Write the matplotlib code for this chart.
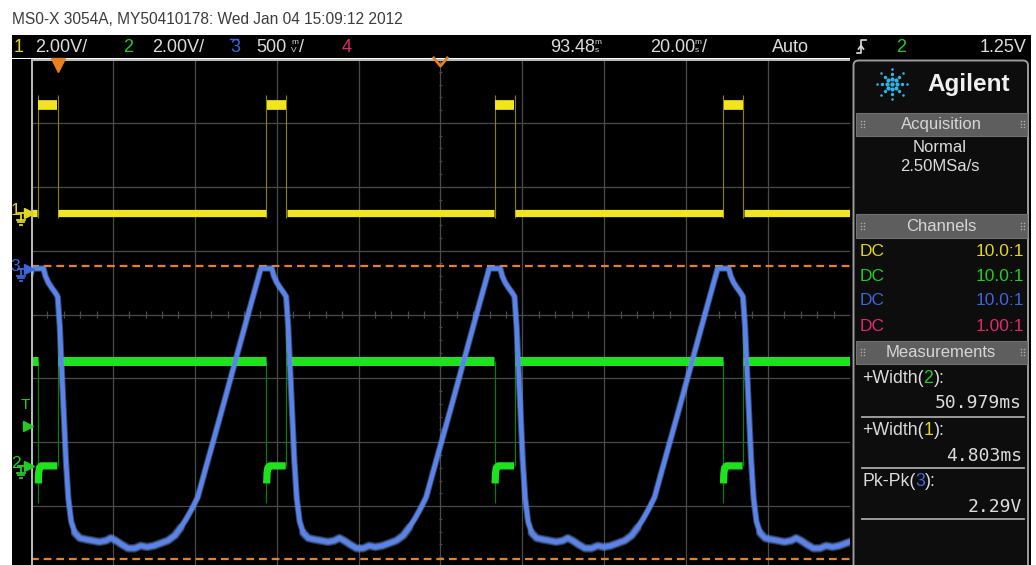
import numpy as np
import matplotlib
matplotlib.use("Agg")
import matplotlib.pyplot as plt
from matplotlib.patches import Rectangle, FancyBboxPatch
from matplotlib.path import Path

W, H, DPI = 1036, 565, 100

# ---------------- values ----------------
header_text = "MS0-X 3054A, MY50410178: Wed Jan 04 15:09:12 2012"
ch_scale_v = [2.0, 2.0, 0.5]          # V/div, channels 1..3
ch_ground_div = [5.59, 1.63, 4.72]    # ground marker height (div above bottom)
timebase_ms = 20.0
delay_ms = 93.48
trigger_level_v = 1.25

ch2_rise_ms = [-55.78, 0.0, 55.78, 111.56, 167.34]
ch2_width_ms = 50.979
ch1_width_ms = 4.803
ch1_high_v = 3.38
ch2_high_v = 3.28
ch2_undershoot_v = -1.16
ch2_overshoot_v = 4.26

ch3_cycle_dt_ms = [0.0, 0.5, 1.0, 1.5, 2.0, 2.6, 3.3, 4.2, 5.4, 6.8, 8.5, 10.2, 11.8,
                   13.0, 14.2, 15.6, 17.2, 18.8, 20.3, 21.8, 23.5, 25.2, 26.9, 28.6,
                   30.0, 31.4, 32.8, 34.2, 36.0, 40.0, 44.0, 47.0, 49.0, 49.6, 52.3,
                   52.8, 53.5, 54.3, 55.2]
ch3_cycle_v = [-0.22, -0.45, -0.80, -1.15, -1.50, -1.80, -1.98, -2.07, -2.11, -2.12,
               -2.13, -2.14, -2.13, -2.11, -2.13, -2.16, -2.19, -2.19, -2.17, -2.18,
               -2.17, -2.15, -2.13, -2.09, -2.03, -1.96, -1.88, -1.79, -1.58, -1.12,
               -0.65, -0.30, -0.07, 0.0, 0.0, -0.06, -0.11, -0.15, -0.19]
pkpk_top_v = 0.02
pkpk_bot_v = -2.27

acq_mode = "Normal"
acq_rate = "2.50MSa/s"
coupling = ["DC", "DC", "DC", "DC"]
probe_ratio = ["10.0:1", "10.0:1", "10.0:1", "1.00:1"]
meas_names = ["+Width", "+Width", "Pk-Pk"]
meas_src = ["2", "1", "3"]
meas_values = ["50.979ms", "4.803ms", "2.29V"]

# ---------------- styling ----------------
YEL, GRN, BLU, ORG = "#f2e41e", "#1ee21e", "#5a84ea", "#e8801e"
YEL_T, GRN_T, BLU_T, MAG_T = "#e2d61c", "#22cc22", "#3d66dc", "#e0286c"
TXT = "#dcdcdc"
SANS = ["Liberation Sans", "DejaVu Sans"]
MONO = ["DejaVu Sans Mono"]
CH_T = [YEL_T, GRN_T, BLU_T, MAG_T]

fig = plt.figure(figsize=(W / DPI, H / DPI), dpi=DPI, facecolor="white")


def fax(x0, y0, x1, y1):
    return fig.add_axes([x0 / W, 1 - y1 / H, (x1 - x0) / W, (y1 - y0) / H])


def bare(ax, fc="black"):
    ax.set_facecolor(fc)
    for s in ax.spines.values():
        s.set_visible(False)
    ax.set_xticks([])
    ax.set_yticks([])


def vdiv(ch, v):
    return ch_ground_div[ch - 1] + np.asarray(v, dtype=float) / ch_scale_v[ch - 1]


# ---------------- header ----------------
fig.text(12 / W, 1 - 19 / H, header_text, fontsize=11.2, color="#3c3c3c",
         va="center", ha="left", family=SANS)

# ---------------- status bar ----------------
axs = fax(12, 35, 1031, 58)
bare(axs)
axs.set_xlim(12, 1031)
axs.set_ylim(58, 35)
yc = 47
fs = 13


def st(x, s, c=TXT, ha="left", size=fs, y=yc):
    axs.text(x, y, s, color=c, fontsize=size, ha=ha, va="center", family=SANS)


st(14, "1", YEL_T)
st(35, "2.00V/")
st(123, "2", GRN_T)
st(152, "2.00V/")
st(230, "3", BLU_T)
axs.plot([230.5, 238], [38.8, 38.8], color=BLU_T, lw=1.0)
st(256, "500")
st(291, "m", size=6, y=42.5)
st(291, "V", size=6, y=51)
st(299, "/")
st(342, "4", MAG_T)
st(550, "93.48")
st(594, "m", size=6, y=42.5)
st(595, "s", size=6, y=51)
st(650, "20.00")
st(694, "m", size=6, y=42.5)
st(695, "s", size=6, y=51)
st(702, "/")
st(772, "Auto")
axs.plot([857, 861, 861, 866], [53, 53, 40, 40], color=TXT, lw=1.2)
axs.plot([858.5, 861, 863.5], [49, 45.5, 49], color=TXT, lw=1.2)
st(896, "2", GRN_T)
st(1027, "1.25V", ha="right")

# ---------------- main graticule ----------------
ax = fax(31, 59, 850, 570)
bare(ax)
x0, x1 = delay_ms - 5 * timebase_ms, delay_ms + 5 * timebase_ms
ax.set_xlim(x0, x1)
ax.set_ylim(0, 8)
for i in range(1, 10):
    ax.axvline(x0 + i * timebase_ms, color="#4a4a4a", lw=0.9, zorder=1)
for j in range(1, 8):
    ax.axhline(j, color="#4a4a4a", lw=0.9, zorder=1)
ax.axvline(x0, color="#b8b8b8", lw=2.2, zorder=6)
ax.axhline(8, color="#b8b8b8", lw=2.2, zorder=6)
# centre-line ticks
tx = np.arange(x0, x1, timebase_ms / 5)
ax.vlines(tx, 4 - 0.05, 4 + 0.05, color="#4a4a4a", lw=0.9, zorder=1)
ty = np.arange(0, 8, 0.2)
ax.hlines(ty, delay_ms - 0.45, delay_ms + 0.45, color="#4a4a4a", lw=0.9, zorder=1)

# pk-pk cursor lines
ax.axhline(vdiv(3, pkpk_top_v), color=ORG, lw=1.6, ls=(0, (3.5, 2.2)), zorder=2)
ax.axhline(vdiv(3, pkpk_bot_v), color=ORG, lw=1.6, ls=(0, (3.5, 2.2)), zorder=2)

# channel 1 (yellow)
for r in ch2_rise_ms:
    rs, fl = r - ch1_width_ms, r
    ax.vlines([rs, fl], vdiv(1, -0.15), vdiv(1, ch1_high_v + 0.3),
              color="#8a8200", lw=0.8, zorder=3)
    ax.plot([rs + 0.1, fl - 0.1], vdiv(1, [ch1_high_v, ch1_high_v]),
            color=YEL, lw=7, solid_capstyle="butt", zorder=4)
    ax.plot([fl + 0.15, fl + ch2_width_ms - 0.15], vdiv(1, [0, 0]),
            color=YEL, lw=5.2, solid_capstyle="butt", zorder=4)

# channel 2 (green)
for r in ch2_rise_ms:
    f = r + ch2_width_ms
    ax.vlines(r, vdiv(2, 0), vdiv(2, ch2_overshoot_v), color="#0f7a0f", lw=0.9, zorder=3)
    ax.vlines(f, vdiv(2, ch2_undershoot_v), vdiv(2, ch2_high_v), color="#0f7a0f",
              lw=0.9, zorder=3)
    ax.plot([r + 0.1, f - 0.1], vdiv(2, [ch2_high_v, ch2_high_v]),
            color=GRN, lw=6.5, solid_capstyle="butt", zorder=4)
    ax.plot([f + 0.05, f + 0.15, f + 0.35, f + 0.8, f + ch1_width_ms - 0.1],
            vdiv(2, [-0.55, -0.22, -0.06, 0.0, 0.0]),
            color=GRN, lw=5.2, solid_capstyle="butt", zorder=4)

# channel 3 (blue)
t3 = np.concatenate([np.asarray(ch3_cycle_dt_ms) + r for r in ch2_rise_ms])
v3 = np.concatenate([np.asarray(ch3_cycle_v) for _ in ch2_rise_ms])
y3 = vdiv(3, v3)
ax.plot(t3, y3, color="#7a9ff2", lw=4.6, alpha=0.45, zorder=5, solid_joinstyle="round")
# noisier (fuzzier) bottom portion
y3_bottom = np.where(v3 < -2.0, y3, np.nan)
ax.plot(t3, y3_bottom, color="#7a9ff2", lw=6.2, alpha=0.35, zorder=5,
        solid_joinstyle="round", solid_capstyle="round")
ax.plot(t3, y3, color=BLU, lw=3.2, zorder=5, solid_joinstyle="round")

# trigger position markers
ax.plot([0], [8 - 6 / 63.9], marker="v", ms=10, color=ORG, clip_on=False, zorder=7)
vmark = Path([(-1, 1), (0, -0.2), (1, 1)], [Path.MOVETO, Path.LINETO, Path.LINETO])
ax.plot([delay_ms], [8 - 5 / 63.9], marker=vmark, ms=11, mfc="none", mec=ORG, mew=2,
        clip_on=False, zorder=7)

# ---------------- left margin markers ----------------
axl = fax(12, 59, 31, 570)
bare(axl)
axl.set_xlim(12, 31)
axl.set_ylim(0, 8)
px = 1 / 63.9


def gnd_marker(label, y, c):
    axl.text(15.5, y + 2 * px, label, color=c, fontsize=12.5, ha="center", va="center",
             family=SANS)
    axl.plot([18, 26], [y, y], color=c, lw=1.3)
    axl.plot([21, 21], [y, y - 7 * px], color=c, lw=1.3)
    for k, hw in enumerate([4, 2.7, 1.4]):
        axl.plot([21 - hw, 21 + hw], [y - (7 + 2.5 * k) * px] * 2, color=c, lw=1.3)
    axl.plot([28.5], [y], marker=">", ms=7, color=c, clip_on=False)


gnd_marker("1", vdiv(1, 0), YEL_T)
gnd_marker("3", vdiv(3, 0), BLU_T)
gnd_marker("2", vdiv(2, 0), GRN_T)
tl = vdiv(2, trigger_level_v)
axl.text(25.5, tl + 21 * px, "T", color=GRN_T, fontsize=11, ha="center", va="center",
         family=SANS)
axl.plot([28], [tl], marker=">", ms=7, color=GRN_T, clip_on=False)

# ---------------- right panel ----------------
axp = fax(850, 58, 1031, 565)
bare(axp)
axp.set_xlim(850, 1031)
axp.set_ylim(565, 58)
axp.add_patch(FancyBboxPatch((853.5, 60.5), 174.5, 520, boxstyle="round,pad=0,rounding_size=5",
                             fc="#0d0d0d", ec="#9c9c9c", lw=1.4))
# logo
ang = np.deg2rad(np.arange(0, 360, 45))
for rr, sz in [(5, 9), (10, 6), (15, 3.5)]:
    axp.scatter(892 + rr * np.cos(ang), 84 + rr * np.sin(ang), s=sz, color="#2fb4e4",
                lw=0)
axp.scatter([892], [84], s=10, color="#2fb4e4", lw=0)
axp.text(927, 85, "Agilent", color="#f0f0f0", fontsize=17.5, fontweight="bold",
         ha="left", va="center", family=SANS)

sections = [("Acquisition", 113, 136), ("Channels", 214, 238), ("Measurements", 341, 364)]
for name, a, b in sections:
    axp.add_patch(Rectangle((855.5, a), 171, b - a, fc="#5e5e5e", ec="#707070", lw=0.8))
    axp.text(941, (a + b) / 2 + 0.5, name, color="#d6d6d6", fontsize=12, ha="center",
             va="center", family=SANS)
    for gx in (861, 1021):
        for dx in (0, 3):
            axp.scatter([gx + dx] * 3, [(a + b) / 2 - 3, (a + b) / 2, (a + b) / 2 + 3],
                        s=1.2, color="#b0b0b0", lw=0)

axp.text(940, 148, acq_mode, color=TXT, fontsize=12, ha="center", va="center", family=SANS)
axp.text(940, 167, acq_rate, color=TXT, fontsize=12, ha="center", va="center", family=SANS)

for k, y in enumerate([252, 277, 301, 327]):
    axp.text(860, y, coupling[k], color=CH_T[k], fontsize=12.5, ha="left", va="center",
             family=SANS)
    axp.text(1024, y, probe_ratio[k], color=CH_T[k], fontsize=12.5, ha="right",
             va="center", family=SANS)

fig.canvas.draw()
rend = fig.canvas.get_renderer()
src_col = {"1": YEL_T, "2": GRN_T, "3": BLU_T}
for k, (ly, vy, sy) in enumerate([(379, 403, 417), (431, 456, 468), (482, 507, 519)]):
    x = 862
    for s, c in [(meas_names[k] + "(", TXT), (meas_src[k], src_col[meas_src[k]]), ("):", TXT)]:
        t = axp.text(x, ly, s, color=c, fontsize=12.8, ha="left", va="center", family=SANS)
        bb = t.get_window_extent(renderer=rend)
        x = axp.transData.inverted().transform((bb.x1, bb.y0))[0]
    axp.text(1022, vy, meas_values[k], color=TXT, fontsize=13, ha="right", va="center",
             family=MONO)
    axp.plot([862, 1024], [sy, sy], color="#a8a8a8", lw=1.3)

fig.savefig("out.png", dpi=DPI, facecolor="white")
